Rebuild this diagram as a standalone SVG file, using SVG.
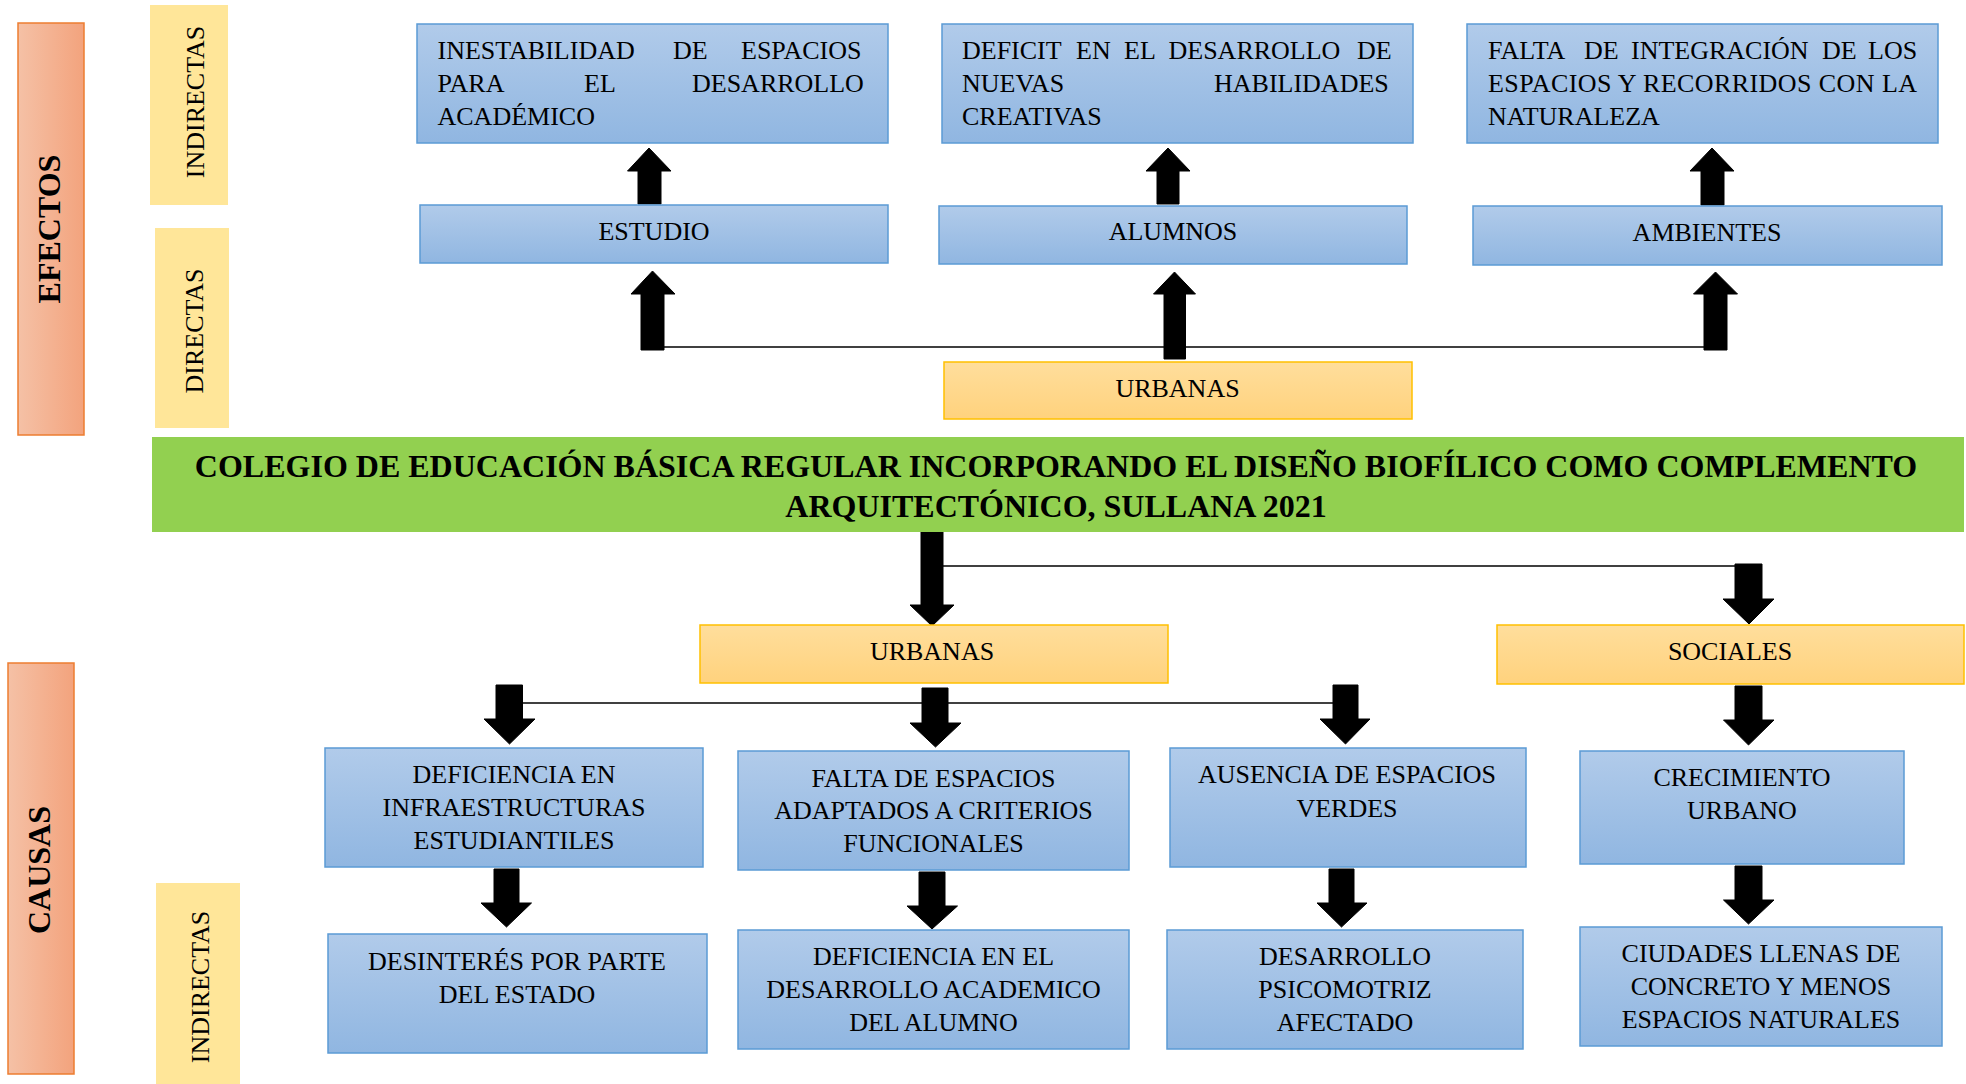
<svg xmlns="http://www.w3.org/2000/svg" width="1966" height="1084" viewBox="0 0 1966 1084">
<defs>
<linearGradient id="blue" x1="0" y1="0" x2="0" y2="1"><stop offset="0" stop-color="#B1CBEA"/><stop offset="1" stop-color="#90B6E1"/></linearGradient>
<linearGradient id="gold" x1="0" y1="0" x2="0" y2="1"><stop offset="0" stop-color="#FFDE9C"/><stop offset="1" stop-color="#FFD27D"/></linearGradient>
<linearGradient id="orange" x1="0" y1="0" x2="1" y2="0"><stop offset="0" stop-color="#F5C1A6"/><stop offset="1" stop-color="#F3A37D"/></linearGradient>
</defs>
<style>
.b{fill:url(#blue);stroke:#5B9BD5;stroke-width:1.5}
.g{fill:url(#gold);stroke:#FFC000;stroke-width:1.5}
.o{fill:url(#orange);stroke:#ED7D31;stroke-width:1.5}
.y{fill:#FFE699}
.t{font-family:"Liberation Serif","Times New Roman",serif;font-size:26px;fill:#000}
.c{text-anchor:middle}
.tb{font-family:"Liberation Serif","Times New Roman",serif;font-size:32px;font-weight:bold;fill:#000;text-anchor:middle}
.ln{stroke:#000;stroke-width:1.5;fill:none}
.ar{fill:#000;stroke:#000;stroke-width:1;stroke-linejoin:round}
</style>
<rect width="1966" height="1084" fill="#fff"/>

<g id="efectos"><rect class="o" x="18" y="23" width="66" height="412"/><text class="tb" transform="translate(60,229) rotate(-90)">EFECTOS</text></g>
<g id="indirectas-ef"><rect class="y" x="150" y="5" width="78" height="200"/><text class="t c" transform="translate(204,102) rotate(-90)">INDIRECTAS</text></g>
<g id="directas-ef"><rect class="y" x="155" y="228" width="74" height="200"/><text class="t c" transform="translate(203,331) rotate(-90)">DIRECTAS</text></g>
<g id="causas"><rect class="o" x="8" y="663" width="66" height="411"/><text class="tb" transform="translate(50,870) rotate(-90)">CAUSAS</text></g>
<g id="indirectas-ca"><rect class="y" x="156" y="883" width="84" height="201"/><text class="t c" transform="translate(209,987) rotate(-90)">INDIRECTAS</text></g>

<g id="connectors">
<line class="ln" x1="660" y1="347" x2="1708" y2="347"/>
<line class="ln" x1="940" y1="566" x2="1738" y2="566"/>
<line class="ln" x1="520" y1="703" x2="1336" y2="703"/>
<polygon class="ar" points="638,204 638,171 627.5,171 649,148 671,171 661,171 661,204"/>
<polygon class="ar" points="641,350 641,294 631,294 652.5,271 675,294 664,294 664,350"/>
<polygon class="ar" points="1157,204 1157,171 1146,171 1168,148 1190,171 1179,171 1179,204"/>
<polygon class="ar" points="1164,359 1164,294 1153.5,294 1174.5,272 1195.5,294 1185.5,294 1185.5,359"/>
<polygon class="ar" points="1701,205 1701,171 1690,171 1712,148 1734,171 1724,171 1724,205"/>
<polygon class="ar" points="1704,350 1704,294 1693.5,294 1715.5,272 1737.5,294 1727,294 1727,350"/>
<polygon class="ar" points="921,532 943,532 943,605 954,605 932,626 910,605 921,605"/>
<polygon class="ar" points="1735,564 1762,564 1762,599 1774,599 1749,624 1723,599 1735,599"/>
<polygon class="ar" points="496,685 522.5,685 522.5,719 535,719 509.5,744 484,719 496,719"/>
<polygon class="ar" points="922,688 948,688 948,723 961,723 935.5,747 910,723 922,723"/>
<polygon class="ar" points="1333,685 1358,685 1358,719 1370,719 1345.5,744 1320,719 1333,719"/>
<polygon class="ar" points="1735,686 1762,686 1762,720 1774,720 1748.5,745 1723.5,720 1735,720"/>
<polygon class="ar" points="494,869 519,869 519,903 531.5,903 506.5,927 481,903 494,903"/>
<polygon class="ar" points="919,872 945,872 945,906 957.5,906 932,929 907,906 919,906"/>
<polygon class="ar" points="1329,869 1354,869 1354,903 1367,903 1341.5,927 1317,903 1329,903"/>
<polygon class="ar" points="1735,866 1762,866 1762,900 1774,900 1748.5,924 1723.5,900 1735,900"/>
</g>

<g id="n-inestabilidad"><rect class="b" x="417" y="24" width="471" height="119"/>
<text class="t" y="59"><tspan x="437.5">INESTABILIDAD</tspan><tspan x="673">DE</tspan><tspan x="741">ESPACIOS</tspan></text>
<text class="t" y="92"><tspan x="437.5">PARA</tspan><tspan x="584">EL</tspan><tspan x="692">DESARROLLO</tspan></text>
<text class="t" x="437.5" y="125">ACADÉMICO</text></g>

<g id="n-deficit"><rect class="b" x="942" y="24" width="471" height="119"/>
<text class="t" y="59"><tspan x="962">DEFICIT</tspan><tspan x="1076">EN</tspan><tspan x="1124">EL</tspan><tspan x="1168.5">DESARROLLO</tspan><tspan x="1357">DE</tspan></text>
<text class="t" y="92"><tspan x="962">NUEVAS</tspan><tspan x="1214">HABILIDADES</tspan></text>
<text class="t" x="962" y="125">CREATIVAS</text></g>

<g id="n-falta-integracion"><rect class="b" x="1467" y="24" width="471" height="119"/>
<text class="t" y="59"><tspan x="1488">FALTA</tspan><tspan x="1584">DE</tspan><tspan x="1631">INTEGRACIÓN</tspan><tspan x="1822">DE</tspan><tspan x="1868">LOS</tspan></text>
<text class="t" x="1488" y="92" textLength="429" lengthAdjust="spacing">ESPACIOS Y RECORRIDOS CON LA</text>
<text class="t" x="1488" y="125">NATURALEZA</text></g>

<g id="n-estudio"><rect class="b" x="420" y="205" width="468" height="58"/><text class="t c" x="654" y="240">ESTUDIO</text></g>
<g id="n-alumnos"><rect class="b" x="939" y="206" width="468" height="58"/><text class="t c" x="1173" y="240">ALUMNOS</text></g>
<g id="n-ambientes"><rect class="b" x="1473" y="206" width="469" height="59"/><text class="t c" x="1707" y="241">AMBIENTES</text></g>
<g id="n-urbanas-ef"><rect class="g" x="944" y="362" width="468" height="57"/><text class="t c" x="1177.5" y="397">URBANAS</text></g>

<g id="n-titulo"><rect x="152" y="437" width="1812" height="95" fill="#92D050"/>
<text class="tb" x="1056" y="477">COLEGIO DE EDUCACIÓN BÁSICA REGULAR INCORPORANDO EL DISEÑO BIOFÍLICO COMO COMPLEMENTO</text>
<text class="tb" x="1056" y="517">ARQUITECTÓNICO, SULLANA 2021</text></g>

<g id="n-urbanas-ca"><rect class="g" x="700" y="625" width="468" height="58"/><text class="t c" x="932" y="660">URBANAS</text></g>
<g id="n-sociales"><rect class="g" x="1497" y="625" width="467" height="59"/><text class="t c" x="1730" y="660">SOCIALES</text></g>

<g id="n-deficiencia-infra"><rect class="b" x="325" y="748" width="378" height="119"/>
<text class="t c" x="514" y="783">DEFICIENCIA EN</text><text class="t c" x="514" y="816">INFRAESTRUCTURAS</text><text class="t c" x="514" y="849">ESTUDIANTILES</text></g>
<g id="n-falta-espacios"><rect class="b" x="738" y="751" width="391" height="119"/>
<text class="t c" x="933.5" y="787">FALTA DE ESPACIOS</text><text class="t c" x="933.5" y="819">ADAPTADOS A CRITERIOS</text><text class="t c" x="933.5" y="852">FUNCIONALES</text></g>
<g id="n-ausencia"><rect class="b" x="1170" y="748" width="356" height="119"/>
<text class="t c" x="1347" y="783">AUSENCIA DE ESPACIOS</text><text class="t c" x="1347" y="817">VERDES</text></g>
<g id="n-crecimiento"><rect class="b" x="1580" y="751" width="324" height="113"/>
<text class="t c" x="1742" y="786">CRECIMIENTO</text><text class="t c" x="1742" y="819">URBANO</text></g>

<g id="n-desinteres"><rect class="b" x="328" y="934" width="379" height="119"/>
<text class="t c" x="517" y="970">DESINTERÉS POR PARTE</text><text class="t c" x="517" y="1003">DEL ESTADO</text></g>
<g id="n-deficiencia-acad"><rect class="b" x="738" y="930" width="391" height="119"/>
<text class="t c" x="933.5" y="965">DEFICIENCIA EN EL</text><text class="t c" x="933.5" y="998">DESARROLLO ACADEMICO</text><text class="t c" x="933.5" y="1031">DEL ALUMNO</text></g>
<g id="n-desarrollo-psico"><rect class="b" x="1167" y="930" width="356" height="119"/>
<text class="t c" x="1345" y="965">DESARROLLO</text><text class="t c" x="1345" y="998">PSICOMOTRIZ</text><text class="t c" x="1345" y="1031">AFECTADO</text></g>
<g id="n-ciudades"><rect class="b" x="1580" y="927" width="362" height="119"/>
<text class="t c" x="1761" y="962">CIUDADES LLENAS DE</text><text class="t c" x="1761" y="995">CONCRETO Y MENOS</text><text class="t c" x="1761" y="1028">ESPACIOS NATURALES</text></g>
</svg>
